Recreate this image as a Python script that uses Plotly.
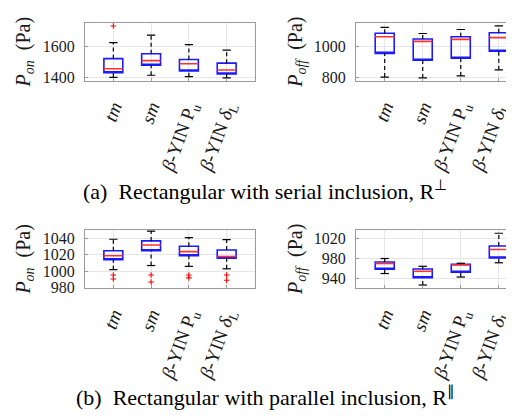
import plotly.graph_objects as go

categories = ["<i>tm</i>", "<i>sm</i>", "<i>β</i>-YIN P<sub>u</sub>", "<i>β</i>-YIN <i>δ</i><sub>L</sub>"]
positions = [0, 1, 2, 3]

# (a) serial inclusion, P_on
a_on_lower = [1402, 1415, 1406, 1398]
a_on_q1 = [1431, 1479, 1442, 1423]
a_on_med = [1456, 1508, 1488, 1448]
a_on_q3 = [1521, 1552, 1515, 1492]
a_on_upper = [1623, 1671, 1610, 1575]
a_on_out_x = [0]
a_on_out_y = [1729]

# (a) serial inclusion, P_off
a_off_lower = [802, 796, 809, 849]
a_off_q1 = [956, 911, 924, 970]
a_off_med = [1064, 1034, 1047, 1058]
a_off_q3 = [1087, 1049, 1064, 1090]
a_off_upper = [1125, 1085, 1111, 1134]
a_off_out_x = []
a_off_out_y = []

# (b) parallel inclusion, P_on
b_on_lower = [1002, 1007, 1006, 1003]
b_on_q1 = [1014, 1025, 1019, 1016]
b_on_med = [1019, 1032, 1024, 1018]
b_on_q3 = [1025, 1037, 1030.5, 1026]
b_on_upper = [1039, 1049, 1041, 1038.5]
b_on_out_x = [0, 0, 1, 1, 2, 2, 3, 3]
b_on_out_y = [995.5, 990.5, 995.5, 987, 995.5, 992, 995.5, 989]

# (b) parallel inclusion, P_off
b_off_lower = [950, 927, 943, 971.5]
b_off_q1 = [958.5, 941.5, 952.5, 981]
b_off_med = [970, 954.5, 967, 998]
b_off_q3 = [973, 959, 968.5, 1005]
b_off_upper = [980, 964.5, 970.5, 1030.5]
b_off_out_x = []
b_off_out_y = []

FONT = '"Liberation Serif", "Times New Roman", Times, serif'
BOX_HALF = 0.25
CAP_HALF = 0.11

fig = go.Figure()

panels = [
    dict(ax="", lower=a_on_lower, q1=a_on_q1, med=a_on_med, q3=a_on_q3, upper=a_on_upper,
         ox=a_on_out_x, oy=a_on_out_y),
    dict(ax="2", lower=a_off_lower, q1=a_off_q1, med=a_off_med, q3=a_off_q3, upper=a_off_upper,
         ox=a_off_out_x, oy=a_off_out_y),
    dict(ax="3", lower=b_on_lower, q1=b_on_q1, med=b_on_med, q3=b_on_q3, upper=b_on_upper,
         ox=b_on_out_x, oy=b_on_out_y),
    dict(ax="4", lower=b_off_lower, q1=b_off_q1, med=b_off_med, q3=b_off_q3, upper=b_off_upper,
         ox=b_off_out_x, oy=b_off_out_y),
]

for p in panels:
    xa = "x" + p["ax"]
    ya = "y" + p["ax"]
    # whiskers (dashed)
    wx, wy = [], []
    for i, x in enumerate(positions):
        wx += [x, x, None, x, x, None]
        wy += [p["q3"][i], p["upper"][i], None, p["lower"][i], p["q1"][i], None]
    fig.add_trace(go.Scatter(x=wx, y=wy, mode="lines", xaxis=xa, yaxis=ya,
                             line=dict(color="black", width=1.2, dash="4px,3px"),
                             showlegend=False, hoverinfo="skip"))
    # caps
    cx, cy = [], []
    for i, x in enumerate(positions):
        cx += [x - CAP_HALF, x + CAP_HALF, None, x - CAP_HALF, x + CAP_HALF, None]
        cy += [p["upper"][i], p["upper"][i], None, p["lower"][i], p["lower"][i], None]
    fig.add_trace(go.Scatter(x=cx, y=cy, mode="lines", xaxis=xa, yaxis=ya,
                             line=dict(color="black", width=1.2),
                             showlegend=False, hoverinfo="skip"))
    # boxes
    fig.add_trace(go.Box(x=positions, q1=p["q1"], median=p["q1"], q3=p["q3"],
                         lowerfence=p["q1"], upperfence=p["q3"],
                         xaxis=xa, yaxis=ya, width=2 * BOX_HALF,
                         line=dict(color="#1a1aff", width=1.6),
                         fillcolor="rgba(0,0,0,0)", showlegend=False, hoverinfo="skip"))
    # medians
    mx, my = [], []
    for i, x in enumerate(positions):
        mx += [x - BOX_HALF, x + BOX_HALF, None]
        my += [p["med"][i], p["med"][i], None]
    fig.add_trace(go.Scatter(x=mx, y=my, mode="lines", xaxis=xa, yaxis=ya,
                             line=dict(color="#ff3030", width=1.6),
                             showlegend=False, hoverinfo="skip"))
    # outliers
    if p["ox"]:
        fig.add_trace(go.Scatter(x=p["ox"], y=p["oy"], mode="markers", xaxis=xa, yaxis=ya,
                                 marker=dict(symbol="cross-thin", size=4,
                                             line=dict(color="red", width=1.1)),
                                 showlegend=False, hoverinfo="skip"))

W, H = 514, 417
left_dom = [77 / W, 247 / W]
right_dom = [348 / W, 1.0]
top_dom = [1 - 74 / H, 1 - 15 / H]
bot_dom = [1 - 285.5 / H, 1 - 226 / H]

grid = "#e6e6e6"
axline = "#9a9a9a"
ytickfont = dict(family=FONT, size=16, color="#1a1a1a")
xtickfont = dict(family=FONT, size=19, color="#1a1a1a")

def xaxis(domain, anchor, rng):
    return dict(domain=domain, anchor=anchor, range=rng, tickvals=positions, ticktext=categories,
                tickangle=-70, showgrid=True, gridcolor=grid, gridwidth=1, zeroline=False,
                showline=True, linecolor=axline, linewidth=1, mirror=True,
                ticks="inside", ticklen=3, tickcolor=axline, tickfont=xtickfont,
                ticklabelstandoff=7)

def yaxis(domain, anchor, rng, dtick, tick0, title, mirror, standoff):
    return dict(domain=domain, anchor=anchor, range=rng, dtick=dtick, tick0=tick0,
                showgrid=True, gridcolor=grid, gridwidth=1, zeroline=False,
                showline=True, linecolor=axline, linewidth=1, mirror=mirror,
                ticks="inside", ticklen=3, tickcolor=axline, tickfont=ytickfont,
                ticklabelstandoff=6,
                title=dict(text=title, font=dict(family=FONT, size=20, color="#1a1a1a"),
                           standoff=standoff))

pon = "<i>P</i><sub><i>on</i></sub>  (Pa)"
poff = "<i>P</i><sub><i>off</i></sub>  (Pa)"

fig.update_layout(
    width=W, height=H, margin=dict(l=0, r=0, t=0, b=0),
    paper_bgcolor="white", plot_bgcolor="white",
    font=dict(family=FONT, color="#1a1a1a"),
    xaxis=xaxis(left_dom, "y", [-0.75, 3.75]),
    yaxis=yaxis(top_dom, "x", [1381, 1750], 200, 0, pon, True, 6),
    xaxis2=xaxis(right_dom, "y2", [-0.755, 3.61]),
    yaxis2=yaxis(top_dom, "x2", [779, 1155], 200, 0, poff, False, 5),
    xaxis3=xaxis(left_dom, "y3", [-0.75, 3.75]),
    yaxis3=yaxis(bot_dom, "x3", [979.6, 1050.7], 20, 0, pon, True, 6),
    xaxis4=xaxis(right_dom, "y4", [-0.755, 3.61]),
    yaxis4=yaxis(bot_dom, "x4", [921, 1037.7], 40, 940, poff, False, 5),
    annotations=[
        dict(text="(a)\u2002Rectangular with serial inclusion, R<sup>⊥</sup>", x=0.5, y=1 - 186 / H,
             xref="paper", yref="paper", showarrow=False, xanchor="center", yanchor="middle",
             font=dict(family=FONT, size=22, color="black")),
        dict(text="(b)\u2002Rectangular with parallel inclusion, R<sup>\u2225</sup>", x=0.5, y=1 - 396 / H,
             xref="paper", yref="paper", showarrow=False, xanchor="center", yanchor="middle",
             font=dict(family=FONT, size=22, color="black")),
    ],
)

fig.write_html("out.html")
